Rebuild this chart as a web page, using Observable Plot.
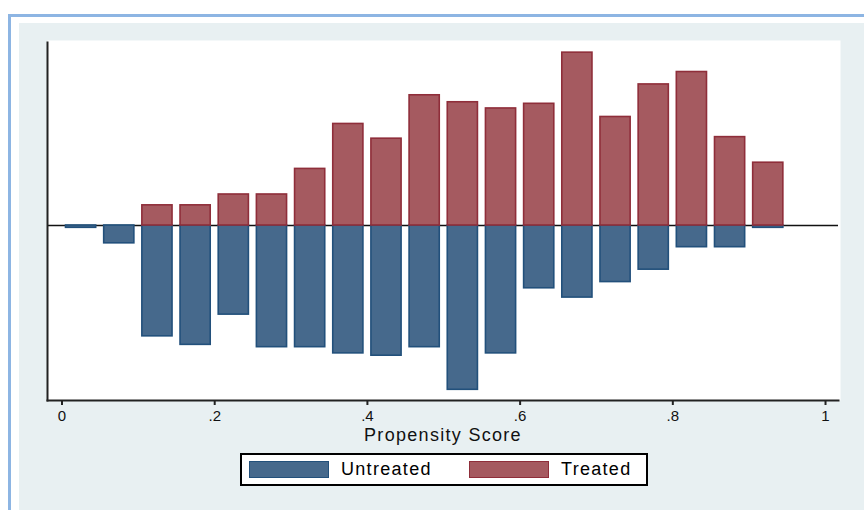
<!DOCTYPE html>
<html>
<head>
<meta charset="utf-8">
<script src="https://cdn.jsdelivr.net/npm/d3@7"></script>
<script src="https://cdn.jsdelivr.net/npm/@observablehq/plot@0.6"></script>
<style>
  body { margin: 0; background: #ffffff; font-family: "Liberation Sans", Arial, sans-serif; }
  #page { position: relative; width: 864px; height: 510px; overflow: hidden; }
  #edge { position: absolute; left: 8px; top: 14px; width: 900px; height: 600px;
          border-left: 3px solid #8db5e3; border-top: 3px solid #8db5e3; }
  #panel { position: absolute; left: 19px; top: 23px; right: 0; bottom: 0; background: #e8f0f2; }
  #chart { position: absolute; left: 0; top: 0; }
  #chart svg { overflow: visible; }
  #chart g[aria-label="x-axis label"], #chart g[aria-label="x-axis label"] text { font-size: 18px; letter-spacing: 1.3px; }
  #legend { position: absolute; left: 240px; top: 453px; width: 404px; height: 29px;
            border: 2px solid #000; background: #fff; }
  .item { position: absolute; top: 0; height: 29px; display: flex; align-items: center; }
  .swatch { width: 78px; height: 15px; border: 1.5px solid; }
  .label { margin-left: 12px; font-size: 18px; letter-spacing: 1.3px; color: #000; }
</style>
</head>
<body>
<div id="page">
  <div id="edge"></div>
  <div id="panel"></div>
  <div id="chart"></div>
  <div id="legend"></div>
</div>
<script>
// Propensity score histogram (density), bins of width 0.05
const binStart = [0, 0.05, 0.1, 0.15, 0.2, 0.25, 0.3, 0.35, 0.4, 0.45,
                  0.5, 0.55, 0.6, 0.65, 0.7, 0.75, 0.8, 0.85, 0.9];
const binWidth = 0.05;
const treated   = [0, 0, 0.26, 0.26, 0.40, 0.40, 0.73, 1.31, 1.12, 1.68,
                   1.59, 1.51, 1.57, 2.23, 1.40, 1.82, 1.98, 1.14, 0.81];
const untreated = [0.03, 0.23, 1.43, 1.54, 1.15, 1.57, 1.57, 1.65, 1.68, 1.57,
                   2.12, 1.65, 0.81, 0.93, 0.73, 0.57, 0.28, 0.28, 0.03];
const xTicks = [0, 0.2, 0.4, 0.6, 0.8, 1];
const xTickLabels = ["0", ".2", ".4", ".6", ".8", "1"];
const groups = ["Untreated", "Treated"];
const fills = ["#46698c", "#a55a60"];
const strokes = ["#22507b", "#8f2e3a"];

const rows = binStart.map((s, i) => ({x1: s, x2: s + binWidth, t: treated[i], u: untreated[i]}));

const chart = Plot.plot({
  width: 864,
  height: 445,
  marginTop: 42,
  marginBottom: 45,
  marginLeft: 47,
  marginRight: 26,
  style: {background: "transparent", fontFamily: "'Liberation Sans', Arial, sans-serif", fontSize: "15px", color: "#111"},
  x: {domain: [-0.019, 1.017]},
  y: {domain: [-2.258, 2.361], axis: null},
  marks: [
    Plot.frame({fill: "#ffffff", stroke: "none", insetTop: -2, insetRight: -2}),
    Plot.ruleY([0], {stroke: "#111", strokeWidth: 1.6}),
    Plot.rectY(rows.filter(d => d.u > 0), {
      x1: "x1", x2: "x2", y1: 0, y2: d => -d.u,
      fill: fills[0], stroke: strokes[0], strokeWidth: 1.6, insetLeft: 4, insetRight: 4
    }),
    Plot.rectY(rows.filter(d => d.t > 0), {
      x1: "x1", x2: "x2", y1: 0, y2: "t",
      fill: fills[1], stroke: strokes[1], strokeWidth: 1.6, insetLeft: 4, insetRight: 4
    }),
    Plot.frame({anchor: "left", stroke: "#222", strokeWidth: 2}),
    Plot.frame({anchor: "bottom", stroke: "#222", strokeWidth: 2}),
    Plot.axisX({
      ticks: xTicks,
      tickFormat: (d, i) => xTickLabels[i],
      tickSize: 5,
      tickPadding: 5,
      strokeWidth: 2,
      stroke: "#222",
      fontSize: 15,
      label: "Propensity Score",
      labelAnchor: "center",
      labelArrow: "none",
      labelOffset: 40
    })
  ]
});
document.getElementById("chart").appendChild(chart);

// Legend
const legend = document.getElementById("legend");
const offsets = [7, 227];
groups.forEach((g, i) => {
  const item = document.createElement("div");
  item.className = "item";
  item.style.left = offsets[i] + "px";
  const sw = document.createElement("div");
  sw.className = "swatch";
  sw.style.background = fills[i];
  sw.style.borderColor = strokes[i];
  const lb = document.createElement("span");
  lb.className = "label";
  lb.textContent = g;
  item.appendChild(sw);
  item.appendChild(lb);
  legend.appendChild(item);
});
</script>
</body>
</html>
